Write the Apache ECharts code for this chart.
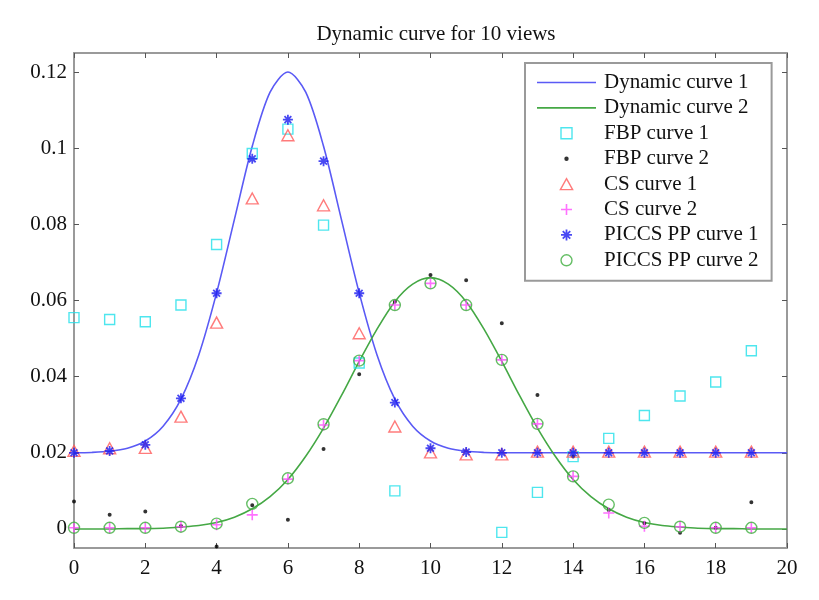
<!DOCTYPE html>
<html>
<head>
<meta charset="utf-8">
<script src="https://cdn.jsdelivr.net/npm/echarts@6/dist/echarts.min.js"></script>
<style>html,body{margin:0;padding:0;background:#fff}#c{width:819px;height:600px}</style>
</head>
<body>
<div id="c"></div>
<script>
// ---- data ----
var titleText = 'Dynamic curve for 10 views';
var seriesNames = ['Dynamic curve 1','Dynamic curve 2','FBP curve 1','FBP curve 2','CS curve 1','CS curve 2','PICCS PP curve 1','PICCS PP curve 2'];
var xTicks = [0,2,4,6,8,10,12,14,16,18,20];
var yTicks = [0,0.02,0.04,0.06,0.08,0.1,0.12];

// x positions of the dense "true" curves (every 0.5)
var curveX = [0,0.5,1,1.5,2,2.5,3,3.5,4,4.5,5,5.5,6,6.5,7,7.5,8,8.5,9,9.5,10,10.5,11,11.5,12,12.5,13,13.5,14,14.5,15,15.5,16,16.5,17,17.5,18,18.5,19,19.5,20];
var dyn1 = [0.0200,0.0201,0.0204,0.0212,0.0231,0.0270,0.0341,0.0457,0.0620,0.0813,0.1005,0.1147,0.1200,0.1147,0.1005,0.0813,0.0620,0.0457,0.0341,0.0270,0.0231,0.0212,0.0204,0.0201,0.0200,0.0200,0.0200,0.0200,0.0200,0.0200,0.0200,0.0200,0.0200,0.0200,0.0200,0.0200,0.0200,0.0200,0.0200,0.0200,0.0200];
var dyn2 = [0,0,0,0.0001,0.0001,0.0002,0.0005,0.0009,0.0017,0.0031,0.0053,0.0085,0.0130,0.0191,0.0265,0.0350,0.0440,0.0525,0.0597,0.0643,0.0660,0.0643,0.0597,0.0525,0.0440,0.0350,0.0265,0.0191,0.0130,0.0085,0.0053,0.0031,0.0017,0.0009,0.0005,0.0002,0.0001,0.0001,0,0,0];

// sampled frames
var frameX = [0,1,2,3,4,5,6,7,8,9,10,11,12,13,14,15,16,17,18,19];
var fbp1   = [0.0555,0.0550,0.0544,0.0588,0.0747,0.0986,0.1050,0.0798,0.0436,0.0100,null,null,-0.0009,0.0096,0.0190,0.0238,0.0298,0.0349,0.0386,0.0468];
var fbp2   = [0.0072,0.0037,0.0046,0.0008,-0.0046,0.0062,0.0024,0.0210,0.0406,0.0597,0.0667,0.0653,0.0540,0.0352,0.0190,0.0050,0.0015,-0.0010,0.0003,0.0070];
var cs1    = [0.0205,0.0212,0.0213,0.0295,0.0542,0.0868,0.1034,0.0850,0.0514,0.0269,0.0201,0.0196,0.0196,0.0203,0.0203,0.0203,0.0203,0.0203,0.0203,0.0203];
var cs2    = [0.0003,0.0003,0.0003,0.0006,0.0011,0.0037,0.0131,0.0273,0.0442,0.0588,0.0645,0.0588,0.0444,0.0276,0.0138,0.0042,0.0007,0.0006,0.0003,0.0003];
var piccs1 = [0.0200,0.0205,0.0221,0.0343,0.0619,0.0972,0.1075,0.0966,0.0619,0.0332,0.0212,0.0202,0.0200,0.0200,0.0200,0.0200,0.0200,0.0200,0.0200,0.0200];
var piccs2 = [0.0003,0.0003,0.0003,0.0006,0.0014,0.0066,0.0133,0.0275,0.0442,0.0588,0.0645,0.0588,0.0444,0.0276,0.0138,0.0064,0.0016,0.0006,0.0003,0.0003];

// ---- build ----
function pairs(xs, ys){ var out=[]; for (var i=0;i<xs.length;i++){ if (ys[i]!==null) out.push([xs[i], ys[i]]); } return out; }

var FONT = 'Liberation Serif';
var C = {dyn1:'#5a5af5', dyn2:'#45a845', fbp1:'#22e0ea', fbp2:'#000000', cs1:'#ff5a5a', cs2:'#ff4dff', piccs1:'#1c1cf0', piccs2:'#3fae3f'};
var SYM = {
  line:'path://M0,0L59,0L59,1.6L0,1.6Z',
  square:'path://M0,0L10,0L10,10L0,10Z',
  dot:'path://M0,0L10,0M0,10L10,10M7,5A2,2,0,1,1,3,5A2,2,0,1,1,7,5Z',
  tri:'path://M5,0L10,9L0,9Z',
  plus:'path://M5,0L5,10M0,5L10,5',
  star:'path://M5,0L5,10M0,5L10,5M1.6,1.6L8.4,8.4M8.4,1.6L1.6,8.4',
  circ:'path://M10,5A5,5,0,1,1,0,5A5,5,0,1,1,10,5Z'
};
var clear = 'rgba(0,0,0,0)';

function scatter(name, ys, sym, size, style){
  return {name:name, type:'scatter', data:pairs(frameX, ys), symbol:sym, symbolSize:size,
          itemStyle:style, emphasis:{disabled:true}, z:3};
}

var frameGray = '#9a9a9a';
var FS = 21;
function tick(){ return {show:true, inside:true, length:5, lineStyle:{color:'#555', width:1}}; }
function yTick(){ var t = tick(); t.customValues = yTicks; return t; }
function line(){ return {show:true, onZero:false, lineStyle:{color:frameGray, width:2}}; }

var option = {
  animation:false,
  backgroundColor:'#fff',
  textStyle:{fontFamily:FONT},
  title:{text:titleText, left:431, textAlign:'center', top:19,
         textStyle:{fontFamily:FONT, fontSize:FS, fontWeight:'normal', color:'#111'}},
  grid:{left:74, right:32, top:53, bottom:52, containLabel:false},
  xAxis:[
    {type:'value', min:0, max:20, interval:2, position:'bottom',
     axisLine:line(), axisTick:tick(), splitLine:{show:false},
     axisLabel:{color:'#111', fontSize:FS, fontFamily:FONT, margin:10}},
    {type:'value', min:0, max:20, interval:2, position:'top',
     axisLine:line(), axisTick:tick(), splitLine:{show:false}, axisLabel:{show:false}}
  ],
  yAxis:[
    {type:'value', min:-0.005, max:0.125, position:'left',
     axisLine:line(), axisTick:yTick(), splitLine:{show:false},
     axisLabel:{color:'#111', fontSize:FS, fontFamily:FONT, margin:7, customValues:yTicks,
                formatter:function(v){ return String(+(+v).toFixed(3)); }}},
    {type:'value', min:-0.005, max:0.125, position:'right',
     axisLine:line(), axisTick:yTick(), splitLine:{show:false}, axisLabel:{show:false}}
  ],
  legend:{
    orient:'vertical', left:525, top:63,
    padding:[9,13,10,12],
    backgroundColor:'#fff', borderColor:frameGray, borderWidth:2, borderRadius:0,
    itemWidth:59, itemHeight:11, itemGap:4.4,
    textStyle:{fontFamily:FONT, fontSize:FS, color:'#111', lineHeight:20, padding:[0,0,0,3]},
    selectedMode:false,
    data:[
      {name:seriesNames[0], icon:SYM.line, itemStyle:{color:C.dyn1, borderWidth:0}},
      {name:seriesNames[1], icon:SYM.line, itemStyle:{color:C.dyn2, borderWidth:0}},
      {name:seriesNames[2], itemStyle:{color:clear, borderColor:C.fbp1, borderWidth:1.4}},
      {name:seriesNames[3], itemStyle:{color:C.fbp2, borderWidth:0}},
      {name:seriesNames[4], itemStyle:{color:clear, borderColor:C.cs1, borderWidth:1.4}},
      {name:seriesNames[5], itemStyle:{color:clear, borderColor:C.cs2, borderWidth:1.6}},
      {name:seriesNames[6], itemStyle:{color:clear, borderColor:C.piccs1, borderWidth:1.8}},
      {name:seriesNames[7], itemStyle:{color:clear, borderColor:C.piccs2, borderWidth:1.4}}
    ]
  },
  series:[
    {name:seriesNames[0], type:'line', data:pairs(curveX, dyn1), smooth:0.3, symbol:'none', showSymbol:false,
     lineStyle:{color:C.dyn1, width:1.6}, itemStyle:{color:C.dyn1}, z:2},
    {name:seriesNames[1], type:'line', data:pairs(curveX, dyn2), smooth:0.3, symbol:'none', showSymbol:false,
     lineStyle:{color:C.dyn2, width:1.6}, itemStyle:{color:C.dyn2}, z:2},
    scatter(seriesNames[2], fbp1, SYM.square, [10,10], {color:clear, borderColor:C.fbp1, borderWidth:1.4}),
    scatter(seriesNames[3], fbp2, SYM.dot, [10,10], {color:C.fbp2, borderWidth:0}),
    scatter(seriesNames[4], cs1, SYM.tri, [12,11], {color:clear, borderColor:C.cs1, borderWidth:1.4}),
    scatter(seriesNames[5], cs2, SYM.plus, [11,11], {color:clear, borderColor:C.cs2, borderWidth:1.6}),
    scatter(seriesNames[6], piccs1, SYM.star, [10,10], {color:clear, borderColor:C.piccs1, borderWidth:1.8}),
    scatter(seriesNames[7], piccs2, SYM.circ, [11,11], {color:clear, borderColor:C.piccs2, borderWidth:1.4})
  ]
};

var chart = echarts.init(document.getElementById('c'), null, {renderer:'canvas'});
chart.setOption(option);
</script>
</body>
</html>
